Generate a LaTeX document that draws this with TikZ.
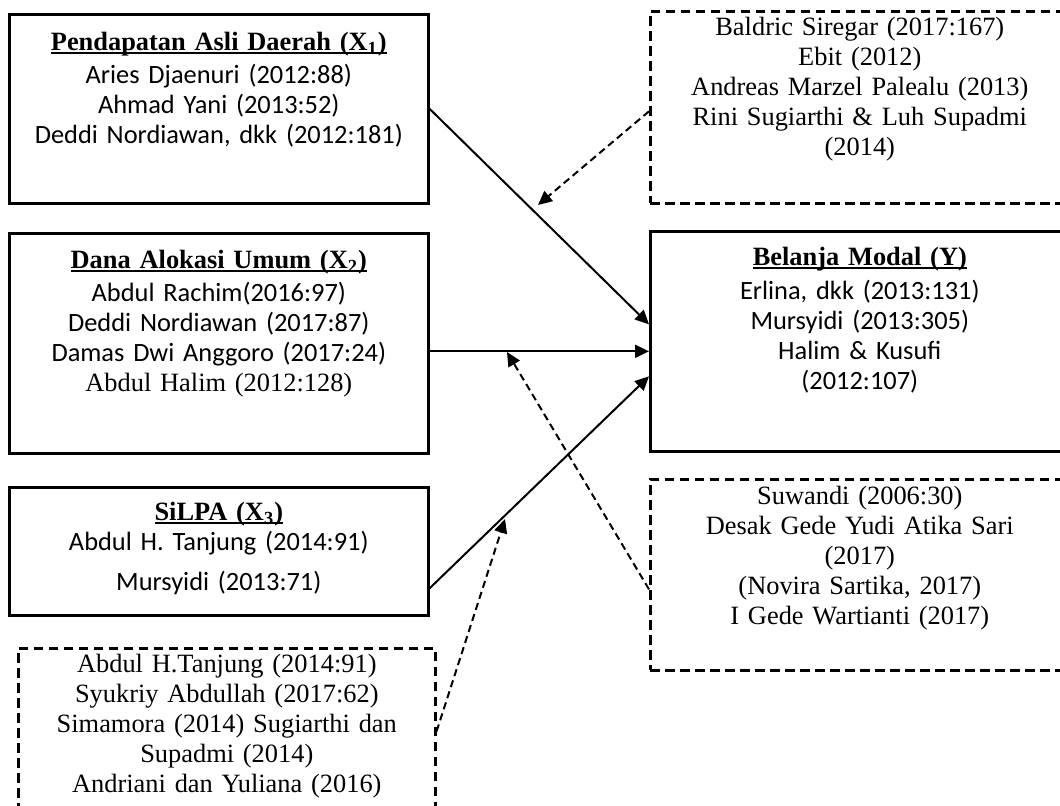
\documentclass[tikz,border=0pt]{standalone}
\usepackage{fontspec}
\setmainfont{Liberation Serif}
\newfontfamily\calibri{Carlito}
\usetikzlibrary{arrows.meta}
\newcommand{\ulhead}[1]{\setbox0\hbox{\bfseries #1}\rlap{\rule[-1.8pt]{\wd0}{0.9pt}}\box0}

\begin{document}
\begin{tikzpicture}[x=0.5pt, y=-0.5pt,
  font=\fontsize{13.2}{15}\selectfont,
  >={Triangle[length=7pt,width=6.5pt]},
  solidbox/.style={draw, line width=1.3pt, anchor=north west, align=center,
    inner xsep=4pt, inner ysep=0pt, text width=201.5pt},
  dashbox/.style={solidbox, line width=1.3pt, dash pattern=on 4.7pt off 2.8pt},
  conn/.style={draw, line width=1pt, ->},
  dconn/.style={conn, dash pattern=on 3.6pt off 2.2pt}]
\useasboundingbox (0,0) rectangle (1060,805);
\clip (0,0) rectangle (1060,805);

\node[solidbox, text height=18pt, text depth=76.5pt] (pad) at (8,13)
  {\ulhead{Pendapatan Asli Daerah (X\textsubscript{1})}\\[1.5pt]
   {\calibri Aries Djaenuri (2012:88)}\\
   {\calibri Ahmad Yani (2013:52)}\\
   {\calibri Deddi Nordiawan, dkk (2012:181)}};
\node[solidbox, text height=17.5pt, text depth=92.5pt] (dau) at (8,232)
  {\ulhead{Dana Alokasi Umum (X\textsubscript{2})}\\[1.5pt]
   {\calibri Abdul Rachim(2016:97)}\\
   {\calibri Deddi Nordiawan (2017:87)}\\
   {\calibri Damas Dwi Anggoro (2017:24)}\\
   Abdul Halim (2012:128)};
\node[solidbox, text height=16.5pt, text depth=47.5pt] (silpa) at (8,486)
  {\ulhead{SiLPA (X\textsubscript{3})}\\
   {\calibri Abdul H. Tanjung (2014:91)}\\[5pt]
   {\calibri Mursyidi (2013:71)}};
\node[dashbox, text width=200.5pt, text height=12pt, text depth=71pt] (litx3) at (17,647)
  {Abdul H.Tanjung (2014:91)\\
   Syukriy Abdullah (2017:62)\\
   Simamora (2014) Sugiarthi dan\\
   Supadmi (2014)\\
   Andriani dan Yuliana (2016)};

\node[dashbox, text height=12pt, text depth=84pt] (lit1) at (649,10)
  {Baldric Siregar (2017:167)\\
   Ebit (2012)\\
   Andreas Marzel Palealu (2013)\\
   Rini Sugiarthi \& Luh Supadmi\\
   (2014)};
\node[solidbox, text height=17pt, text depth=93pt] (bm) at (649,230)
  {\ulhead{Belanja Modal (Y)}\\[2pt]
   {\calibri Erlina, dkk (2013:131)}\\
   {\calibri Mursyidi (2013:305)}\\
   {\calibri Halim \& Kusufi}\\
   {\calibri (2012:107)}};
\node[dashbox, text height=12.5pt, text depth=83pt] (lit2) at (649,478)
  {Suwandi (2006:30)\\
   Desak Gede Yudi Atika Sari\\
   (2017)\\
   (Novira Sartika, 2017)\\
   I Gede Wartianti (2017)};

\coordinate (c1) at (538,205);
\coordinate (c2) at (507,352);
\coordinate (c3) at (505,519);

\path[conn] (pad.east) -- ([yshift=8.5pt]bm.west);
\path[conn] ([yshift=-4pt]dau.east) -- ([yshift=-5pt]bm.west);
\path[conn] ([yshift=-18.5pt]silpa.east) -- ([yshift=-17.5pt]bm.west);
\path[dconn] ([yshift=-2pt]lit1.west) -- (c1);
\path[dconn] ([yshift=-7.25pt]lit2.west) -- (c2);
\path[dconn] (litx3.east) -- (c3);
\end{tikzpicture}
\end{document}
